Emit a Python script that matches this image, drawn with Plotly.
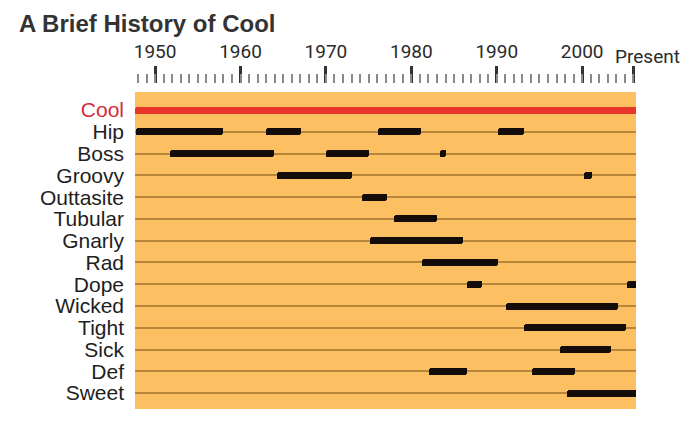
import plotly.graph_objects as go

# ---------------- data ----------------
terms = ["Cool", "Hip", "Boss", "Groovy", "Outtasite", "Tubular", "Gnarly",
         "Rad", "Dope", "Wicked", "Tight", "Sick", "Def", "Sweet"]

# periods of use (start year, end year) -- one entry per black bar
bar_term = ["Hip", "Hip", "Hip", "Hip",
            "Boss", "Boss", "Boss",
            "Groovy", "Groovy",
            "Outtasite",
            "Tubular",
            "Gnarly",
            "Rad",
            "Dope", "Dope",
            "Wicked",
            "Tight",
            "Sick",
            "Def", "Def",
            "Sweet"]
bar_start = [1947.8, 1963.0, 1976.1, 1990.2,
             1951.8, 1970.0, 1983.3,
             1964.3, 2000.2,
             1974.2,
             1978.0,
             1975.2,
             1981.2,
             1986.5, 2005.3,
             1991.1,
             1993.2,
             1997.4,
             1982.1, 1994.1,
             1998.2]
bar_end = [1957.9, 1967.1, 1981.1, 1993.2,
           1963.9, 1975.0, 1984.1,
           1973.0, 2001.2,
           1977.1,
           1983.0,
           1986.1,
           1990.2,
           1988.3, 2006.4,
           2004.2,
           2005.1,
           2003.4,
           1986.5, 1999.1,
           2006.4]

# "Cool" is always cool
cool_start = [1947.6]
cool_end = [2006.4]

year_range = [1947.65, 2006.3]
major_ticks = [1950, 1960, 1970, 1980, 1990, 2000, 2006]
major_text = ["1950", "1960", "1970", "1980", "1990", "2000", ""]
present_year = 2006
present_label = "Present"

# ---------------- styling ----------------
ORANGE = "#fcc062"
ROWLINE = "#b8863a"
RED = "#e8372a"
BLACK = "#140c08"
TEXT = "#2a2a2a"
TICKFONT = "Roboto, Liberation Sans, Arial, sans-serif"
SANS = "Liberation Sans, Arial, Helvetica, sans-serif"

# the page body has an 8px default margin: compensate so that the
# photographed window matches the reference layout
OFF = 8

fig = go.Figure()

fig.add_trace(go.Bar(
    y=["Cool"] * len(cool_start),
    base=cool_start,
    x=[e - s for s, e in zip(cool_start, cool_end)],
    orientation="h",
    width=0.32,
    marker=dict(color=RED, line=dict(width=0)),
    hoverinfo="skip",
    showlegend=False,
))

fig.add_trace(go.Bar(
    y=bar_term,
    base=bar_start,
    x=[e - s for s, e in zip(bar_start, bar_end)],
    orientation="h",
    width=0.32,
    marker=dict(color=BLACK, line=dict(width=0)),
    hoverinfo="skip",
    showlegend=False,
))

# invisible helper traces so the top tick axes are drawn
fig.add_trace(go.Scatter(x=year_range, y=[terms[0], terms[0]], xaxis="x2",
                         mode="markers", marker=dict(opacity=0),
                         hoverinfo="skip", showlegend=False))
fig.add_trace(go.Scatter(x=year_range, y=[terms[0], terms[0]], xaxis="x3",
                         mode="markers", marker=dict(opacity=0),
                         hoverinfo="skip", showlegend=False))

tick_labels = [("<span style='color:#d42b3a'>%s</span>" % t) if t == "Cool" else t
               for t in terms]

W, H = 700, 432
L, R, T, B = 135 - OFF, W - 636 + OFF, 83 - OFF, H - 409 + OFF
plot_h = H - T - B
top_gap = 9
ydom_top = 1 - top_gap / plot_h

fig.update_layout(
    width=W, height=H,
    margin=dict(l=L, r=R, t=T, b=B, pad=0, autoexpand=False),
    paper_bgcolor="white",
    plot_bgcolor=ORANGE,
    barmode="overlay",
    bargap=0,
    barcornerradius=2,
    title=dict(
        text="<b>A Brief History of Cool</b>",
        font=dict(family=SANS, size=24, color="#333333"),
        x=(19 - OFF) / W, xanchor="left", xref="container",
        y=1 - (24 - OFF) / H, yanchor="middle", yref="container",
        pad=dict(l=0, r=0, t=0, b=0), automargin=False,
    ),
    xaxis=dict(
        range=year_range, showgrid=False, zeroline=False, automargin=False,
        showticklabels=False, ticks="", showline=False, fixedrange=True,
    ),
    xaxis2=dict(
        range=year_range, overlaying="x", side="top", anchor="free",
        position=1.0, tickmode="array", tickvals=major_ticks,
        ticktext=major_text, ticks="outside", ticklen=17, tickwidth=3,
        tickcolor="#333333", showgrid=False, zeroline=False, showline=False,
        tickfont=dict(family=TICKFONT, size=19, color=TEXT),
        ticklabelstandoff=0, automargin=False,
    ),
    xaxis3=dict(
        range=year_range, overlaying="x", side="top", anchor="free",
        position=1.0, tickmode="linear", tick0=1948, dtick=1,
        ticks="outside", ticklen=9, tickwidth=1.5, tickcolor="#8a8a8a",
        showticklabels=False, showgrid=False, zeroline=False, showline=False,
        automargin=False,
    ),
    yaxis=dict(
        domain=[0, ydom_top],
        categoryorder="array", categoryarray=terms,
        tickmode="array", tickvals=terms, ticktext=tick_labels,
        range=[len(terms) - 1 + 0.73, -0.83],
        showgrid=True, gridcolor=ROWLINE, gridwidth=1.5,
        zeroline=False, showline=False, ticks="",
        tickfont=dict(family=SANS, size=21, color="#1e1e1e"),
        ticklabelstandoff=10, automargin=False,
        fixedrange=True,
    ),
    annotations=[dict(
        text=present_label, xref="x2", x=present_year, xshift=14,
        xanchor="center", yref="paper", y=(plot_h - 56 + OFF + T) / plot_h,
        yanchor="middle", showarrow=False,
        font=dict(family=TICKFONT, size=19, color=TEXT),
    )],
)

fig.write_html("out.html")
